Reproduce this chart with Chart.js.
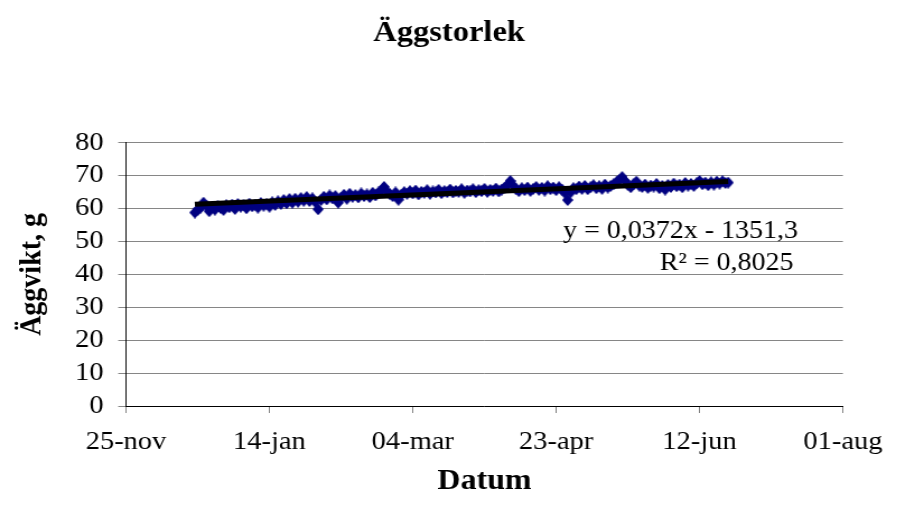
<!DOCTYPE html>
<html>
<head>
<meta charset="utf-8">
<script src="https://cdn.jsdelivr.net/npm/chart.js@4.4.1/dist/chart.umd.min.js"></script>
<style>
  html, body { margin: 0; padding: 0; background: #fff; overflow: hidden; }
  /* the chart is laid out a little narrower and widened, so text gets the wide Excel look */
  #wrap { width: 802px; height: 521px; transform: scaleX(1.12); transform-origin: 0 0; }
</style>
</head>
<body>
<div id="wrap"><canvas id="eggChart" width="802" height="521"></canvas></div>
<script>
// Excel-datum (serienummer): 25-nov-2003 = 37950
const axisStart = 37950;
const axisEnd = 38200;
const axisStep = 50;
const firstDay = 37974; // 19-dec-2003, en vägning per dag

// medelvikt per ägg, g
const eggWeights = [
    58.8, 59.6, 60.3, 61.8, 60.9, 59.2, 60.5, 59.7, 60.8, 60.2,
    59.6, 61.0, 60.4, 61.2, 59.9, 61.4, 60.6, 61.0, 60.1, 61.5,
    60.7, 61.2, 60.3, 61.7, 60.9, 61.4, 60.6, 61.9, 61.1, 62.2,
    61.4, 62.6, 61.6, 62.9, 61.8, 63.0, 62.1, 63.2, 62.4, 63.5,
    62.3, 63.1, 62.0, 59.8, 62.6, 63.6, 62.8, 64.0, 63.1, 63.8,
    61.8, 63.3, 64.2, 63.0, 64.5, 63.6, 64.1, 63.4, 64.6, 63.8,
    64.3, 63.5, 64.8, 64.0, 64.9, 65.4, 66.6, 65.2, 64.4, 63.8,
    64.9, 62.7, 64.2, 65.0, 64.5, 65.3, 64.6, 65.5, 64.3, 65.1,
    64.8, 65.6, 64.5, 65.2, 64.9, 65.7, 64.7, 65.3, 65.0, 65.8,
    64.9, 65.4, 65.1, 65.9, 64.8, 65.5, 65.2, 65.9, 65.0, 65.6,
    65.3, 66.0, 65.1, 65.7, 65.4, 66.1, 65.2, 65.8, 66.3, 67.2,
    68.4, 67.0, 65.9, 65.3, 66.2, 65.6, 66.4, 65.4, 66.0, 66.6,
    65.7, 66.3, 65.5, 66.8, 65.9, 66.4, 65.6, 66.5, 65.8, 64.8,
    62.6, 64.9, 66.2, 65.9, 66.7, 66.0, 66.9, 65.9, 66.5, 67.1,
    66.2, 66.8, 66.0, 67.3, 66.4, 66.9, 67.4, 68.0, 68.7, 69.6,
    68.4, 67.2, 66.5, 67.4, 68.2, 67.0, 66.6, 67.3, 66.3, 67.0,
    66.7, 67.5, 66.2, 66.9, 65.8, 67.2, 66.6, 67.6, 66.8, 67.3,
    66.5, 67.8, 67.0, 67.5, 66.9, 67.7, 68.4, 67.4, 67.9, 67.1,
    68.0, 67.3, 68.2, 67.6, 68.3, 67.8, 67.9
];

// linjär trendlinje enligt Excel
const trendSlope = 0.0372;
const trendIntercept = -1351.3;
const trendLabels = ['y = 0,0372x - 1351,3', 'R² = 0,8025'];

const monthNames = ['jan', 'feb', 'mar', 'apr', 'maj', 'jun', 'jul', 'aug', 'sep', 'okt', 'nov', 'dec'];
const serif = "'Liberation Serif', 'Times New Roman', serif";

function serialToLabel(serial) {
    const d = new Date(Date.UTC(1899, 11, 30) + serial * 86400000);
    const day = String(d.getUTCDate()).padStart(2, '0');
    return day + '-' + monthNames[d.getUTCMonth()];
}

// rutermarkör, lite smalare i x eftersom diagrammet dras ut i sidled
function makeDiamond(w, h, color) {
    const c = document.createElement('canvas');
    c.width = w;
    c.height = h;
    const g = c.getContext('2d');
    g.fillStyle = color;
    g.beginPath();
    g.moveTo(w / 2, 0);
    g.lineTo(w, h / 2);
    g.lineTo(w / 2, h);
    g.lineTo(0, h / 2);
    g.closePath();
    g.fill();
    return c;
}

const eggPoints = eggWeights.map((v, i) => ({ x: firstDay + i, y: v }));
const lastDay = firstDay + eggWeights.length - 1;
const trendPoints = [firstDay, lastDay].map(x => ({ x: x, y: trendSlope * x + trendIntercept }));

// text för trendlinjens ekvation
const trendLabelPlugin = {
    id: 'trendLabel',
    afterDraw(chart) {
        const ctx = chart.ctx;
        const area = chart.chartArea;
        ctx.save();
        ctx.font = '25px ' + serif;
        ctx.fillStyle = '#000';
        ctx.textAlign = 'right';
        ctx.textBaseline = 'middle';
        ctx.fillText(trendLabels[0], area.right - 40, area.top + 89);
        ctx.fillText(trendLabels[1], area.right - 44, area.top + 121);
        ctx.restore();
    }
};

const eggConfig = {
    type: 'scatter',
    data: {
        datasets: [{
            type: 'line',
            label: 'Linjär',
            data: trendPoints,
            borderColor: '#000',
            borderWidth: 5,
            pointRadius: 0,
            fill: false,
            order: 0
        }, {
            label: 'Äggvikt',
            data: eggPoints,
            pointStyle: makeDiamond(10, 12, '#000080'),
            pointRadius: 6,
            order: 1
        }]
    },
    options: {
        responsive: false,
        devicePixelRatio: 1,
        animation: false,
        events: [],
        plugins: {
            legend: { display: false },
            tooltip: { enabled: false },
            title: {
                display: true,
                text: 'Äggstorlek',
                color: '#000',
                font: { family: serif, size: 29, weight: 'bold' },
                padding: { top: 16, bottom: 92 }
            }
        },
        scales: {
            x: {
                type: 'linear',
                min: axisStart,
                max: axisEnd,
                afterFit: s => { s.height = 115; },
                ticks: {
                    stepSize: axisStep,
                    color: '#000',
                    font: { family: serif, size: 25.5 },
                    padding: 14,
                    maxRotation: 0,
                    autoSkip: false,
                    callback: v => serialToLabel(v)
                },
                grid: { drawOnChartArea: false, drawTicks: true, tickLength: 7, color: '#808080' },
                border: { color: '#000', width: 1 },
                title: {
                    display: true,
                    text: 'Datum',
                    color: '#000',
                    font: { family: serif, size: 28.5, weight: 'bold' },
                    padding: { top: 0, bottom: 22 }
                }
            },
            y: {
                min: 0,
                max: 80,
                afterFit: s => { s.width = 112.5; },
                ticks: {
                    stepSize: 10,
                    autoSkip: false,
                    color: '#000',
                    font: { family: serif, size: 25.5 },
                    padding: 13
                },
                grid: { color: '#868686', tickLength: 7 },
                border: { color: '#000', width: 1 },
                title: {
                    display: true,
                    text: 'Äggvikt, g',
                    color: '#000',
                    font: { family: serif, size: 28, weight: 'bold' },
                    padding: { top: 12, bottom: 0 }
                }
            }
        }
    },
    plugins: [trendLabelPlugin]
};

window.onload = function() {
    const ctx = document.getElementById('eggChart').getContext('2d');
    new Chart(ctx, eggConfig);
};
</script>
</body>
</html>
